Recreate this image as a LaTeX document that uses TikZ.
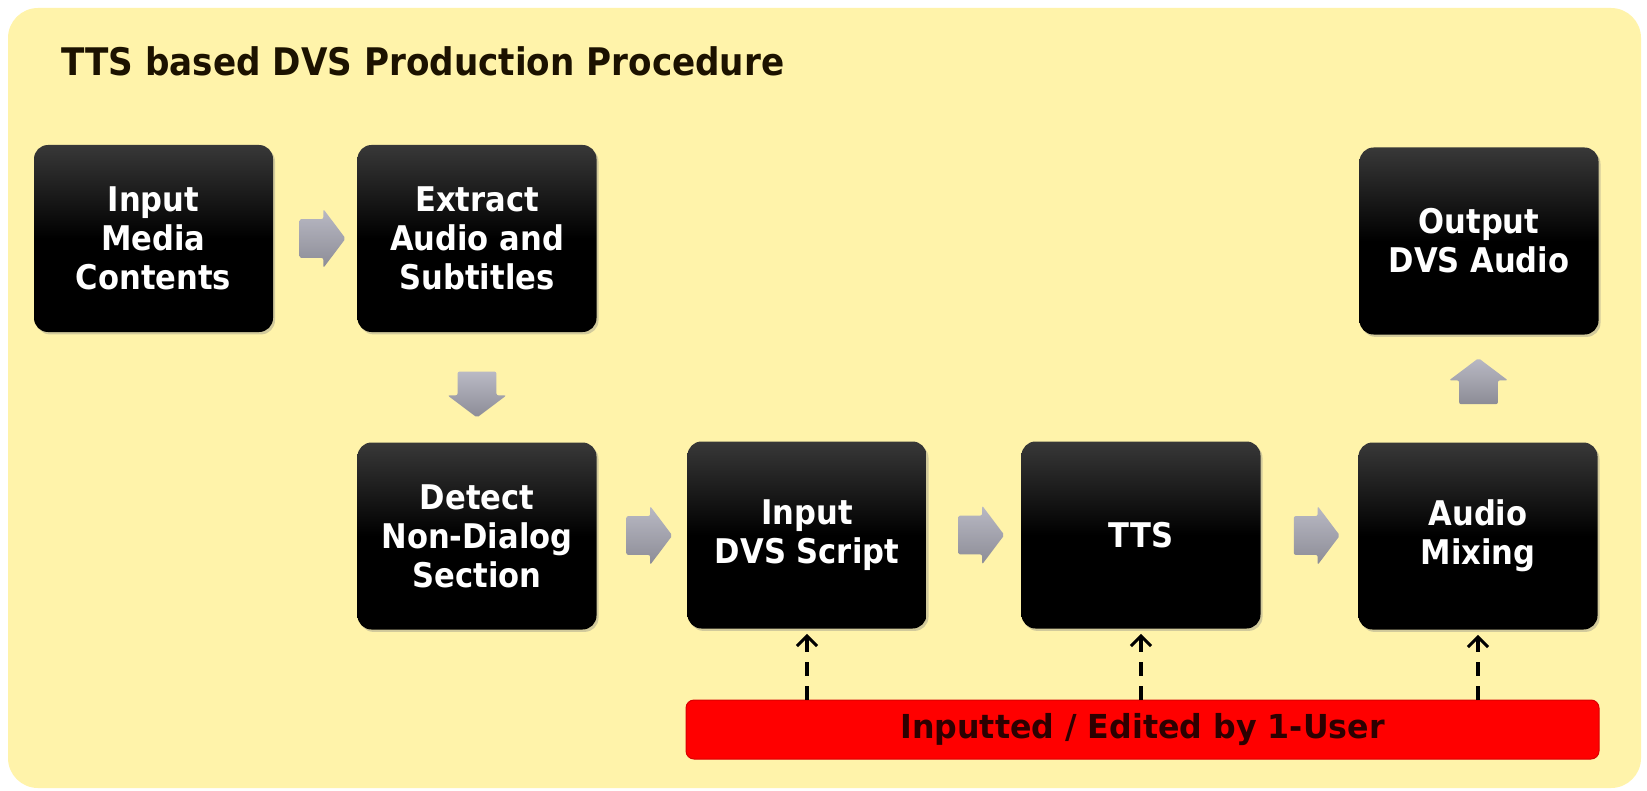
\documentclass[tikz,border=0pt]{standalone}
\usepackage{fontspec}
\newfontfamily\boxfont[FakeStretch=0.9]{DejaVu Sans}
\newfontfamily\ttlfont[FakeStretch=0.9]{DejaVu Sans}
\newfontfamily\barfont[FakeStretch=0.96]{DejaVu Sans}
\usetikzlibrary{shapes.arrows,arrows.meta,shadows}
\definecolor{bgyellow}{RGB}{255,243,170}
\definecolor{titlecol}{RGB}{28,18,0}
\definecolor{barred}{RGB}{255,0,0}
\definecolor{bartext}{RGB}{45,0,0}
\definecolor{arrowtop}{RGB}{185,185,196}
\definecolor{arrowbot}{RGB}{140,140,150}
\tikzset{
  stepbox/.style={rectangle, rounded corners=7pt, minimum width=119.5pt, minimum height=93.5pt,
    inner sep=0pt, text=white, align=center,
    font=\boxfont\bfseries\fontsize{17}{19.5}\selectfont,
    top color=black!78, bottom color=black, middle color=black,
    drop shadow={shadow xshift=1pt, shadow yshift=-1.2pt, opacity=0.35}},
  garrow/.style={single arrow, minimum height=23pt, inner xsep=0pt, inner ysep=9.5pt,
    single arrow head extend=5pt, single arrow tip angle=106, draw=none,
    rounded corners=1pt,
    top color=arrowtop, bottom color=arrowbot},
  dasharrow/.style={line width=2pt, dash pattern=on 7pt off 5pt,
    -{Straight Barb[length=5pt,width=10pt,line width=1.5pt]}, shorten >=2.5pt}
}
\begin{document}
\begin{tikzpicture}[x=0.5pt,y=-0.5pt]
\useasboundingbox (0,0) rectangle (1647,791);
\fill[white] (0,0) rectangle (1647,791);
\fill[bgyellow, rounded corners=15pt] (8,8) rectangle (1641,788);

\node[anchor=base west, text=titlecol, inner sep=0pt,
  font=\ttlfont\bfseries\fontsize{19}{22}\selectfont] (title) at (61,76)
  {TTS based DVS Production Procedure};

\node[stepbox] (b1) at (153.5,238.5) {Input\\Media\\Contents};
\node[stepbox] (b2) at (477,238.5) {Extract\\Audio and\\Subtitles};
\node[stepbox] (b7) at (1479,241) {Output\\DVS Audio};
\node[stepbox] (b3) at (477,536) {Detect\\Non-Dialog\\Section};
\node[stepbox] (b4) at (807,535) {Input\\DVS Script};
\node[stepbox] (b5) at (1141,535) {TTS};
\node[stepbox] (b6) at (1478,536) {Audio\\Mixing};

\node[rectangle, rounded corners=4pt, minimum width=456.5pt, minimum height=29.5pt,
  fill=barred, draw=red!85!black, line width=0.5pt, text=bartext,
  font=\barfont\bfseries\fontsize{16.5}{19}\selectfont] (user) at (1142.5,729.5)
  {Inputted / Edited by 1-User};

\path (b1.east) -- (b2.west) node[midway, garrow] (a12) {};
\path (b2.south) -- (b3.north) node[midway, garrow, rotate=-90] (a23) {};
\path (b3.east) -- (b4.west) node[midway, garrow] (a34) {};
\path (b4.east) -- (b5.west) node[midway, garrow] (a45) {};
\path (b5.east) -- (b6.west) node[midway, garrow] (a56) {};
\path (b6.north) -- (b7.south) node[midway, garrow, rotate=90] (a67) {};

\draw[dasharrow] (b4.south |- user.north) -- (b4.south);
\draw[dasharrow] (b5.south |- user.north) -- (b5.south);
\draw[dasharrow] (b6.south |- user.north) -- (b6.south);
\end{tikzpicture}
\end{document}
